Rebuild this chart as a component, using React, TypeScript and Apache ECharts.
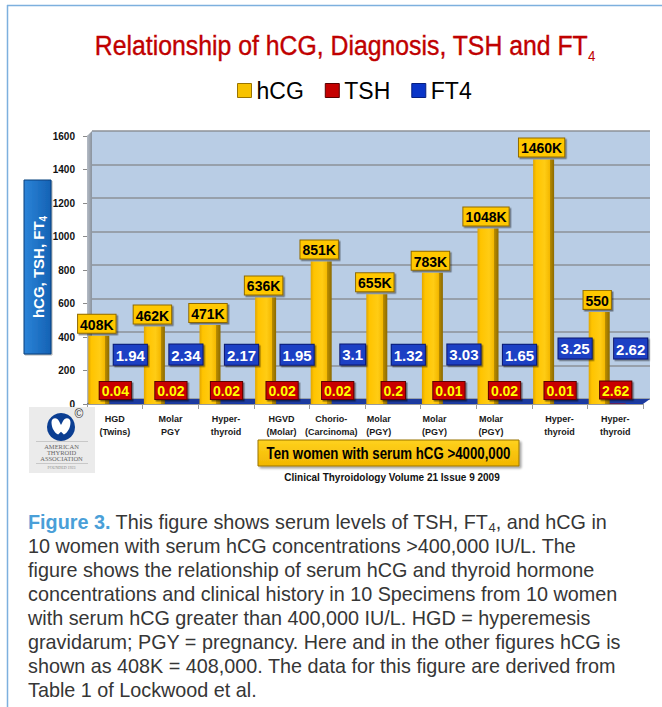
import React, { useEffect, useRef } from 'react';
import * as echarts from 'echarts';

const categories = [
  'HGD\n(Twins)',
  'Molar\nPGY',
  'Hyper-\nthyroid',
  'HGVD\n(Molar)',
  'Chorio-\n(Carcinoma)',
  'Molar\n(PGY)',
  'Molar\n(PGY)',
  'Molar\n(PGY)',
  'Hyper-\nthyroid',
  'Hyper-\nthyroid',
];
const hcgValues = [408, 462, 471, 636, 851, 655, 783, 1048, 1460, 550];
const hcgLabels = ['408K', '462K', '471K', '636K', '851K', '655K', '783K', '1048K', '1460K', '550'];
const tshValues = [0.04, 0.02, 0.02, 0.02, 0.02, 0.2, 0.01, 0.02, 0.01, 2.62];
const ft4Values = [1.94, 2.34, 2.17, 1.95, 3.1, 1.32, 3.03, 1.65, 3.25, 2.62];
const yMin = 0;
const yMax = 1600;
const yStep = 200;

const titleMain = 'Relationship of hCG, Diagnosis, TSH and FT';
const legendNames = ['hCG', 'TSH', 'FT4'];
const yAxisTitle = 'hCG, TSH, FT';
const bannerText = 'Ten women with serum hCG >4000,000';
const sourceText = 'Clinical Thyroidology Volume 21 Issue 9 2009';
const captionLines = [
  '{b|Figure 3.} This figure shows serum levels of TSH, FT{s|4}, and hCG in',
  '10 women with serum hCG concentrations >400,000 IU/L. The',
  'figure shows the relationship of serum hCG and thyroid hormone',
  'concentrations and clinical history in 10 Specimens from 10 women',
  'with serum hCG greater than 400,000 IU/L. HGD = hyperemesis',
  'gravidarum; PGY = pregnancy. Here and in the other figures hCG is',
  'shown as 408K = 408,000. The data for this figure are derived from',
  'Table 1 of Lockwood et al.',
];
const logoLines = ['AMERICAN', 'THYROID', 'ASSOCIATION'];

const FONT = '"Liberation Sans", Arial, Helvetica, sans-serif';

let shapeRegistered = false;
function registerShapes() {
  if (shapeRegistered) return;
  shapeRegistered = true;
  echarts.graphic.registerShape(
    'thyroid',
    echarts.graphic.extendPath(
      'M -10 -5 C -10 -10 -4 -11 -2 -6 L 0 -2 L 2 -6 C 4 -11 10 -10 10 -5 C 10 1 7 6 3 8 L 0 5 L -3 8 C -7 6 -10 1 -10 -5 Z',
      {}
    ) as any
  );
}

function buildOption() {
  const xPad: Record<number, number> = { 4: 12, 5: 28, 6: 28, 7: 26 };
  const baseLbl = { fontSize: 9, fontWeight: 'bold', color: '#1a1a1a', lineHeight: 12.5, fontFamily: FONT };
  const rich: any = { n: baseLbl };
  Object.values(xPad).forEach((p) => {
    rich['p' + p] = { ...baseLbl, padding: [0, p, 0, 0] };
  });

  const hcgGradient = new echarts.graphic.LinearGradient(0, 0, 1, 0, [
    { offset: 0, color: '#e2a600' },
    { offset: 0.15, color: '#ffc400' },
    { offset: 0.55, color: '#ffcc14' },
    { offset: 0.79, color: '#f4b800' },
    { offset: 0.8, color: '#b98c00' },
    { offset: 1, color: '#8c6a00' },
  ]);

  const graphic: any[] = [
    // frame
    { type: 'line', shape: { x1: 7, y1: 5.5, x2: 662, y2: 5.5 }, style: { stroke: '#7db0de', lineWidth: 1.5 }, z: 10 },
    { type: 'line', shape: { x1: 7.5, y1: 5, x2: 7.5, y2: 707 }, style: { stroke: '#7db0de', lineWidth: 1.5 }, z: 10 },
    // title
    {
      type: 'text',
      x: 345,
      y: 45,
      scaleX: 0.886,
      style: {
        text: `{t|${titleMain}}{s|4}`,
        align: 'center',
        verticalAlign: 'middle',
        rich: {
          t: { fontSize: 28, fontFamily: FONT, fill: '#c00000', lineHeight: 36, stroke: '#c00000', lineWidth: 0.4 },
          s: { fontSize: 15, fontFamily: FONT, fill: '#c00000', lineHeight: 17, verticalAlign: 'bottom' },
        },
      },
      z: 10,
    },
    // side wall
    {
      type: 'polygon',
      shape: { points: [[87, 136], [92, 131], [92, 399], [87, 404]] },
      style: {
        fill: new echarts.graphic.LinearGradient(0, 0, 1, 0, [
          { offset: 0, color: '#b5bcc6' },
          { offset: 1, color: '#8a939e' },
        ]),
      },
      z: 1,
    },
    // floor
    {
      type: 'polygon',
      shape: { points: [[87, 404], [92, 399], [650, 399], [643, 404]] },
      style: { fill: '#1c3a9e' },
      z: 1,
    },
    // y axis name box
    {
      type: 'rect',
      shape: { x: 24, y: 180, width: 27, height: 174 },
      style: {
        fill: new echarts.graphic.LinearGradient(0, 0, 1, 0, [
          { offset: 0, color: '#2b84d8' },
          { offset: 1, color: '#1562b4' },
        ]),
        stroke: '#0d3f7a',
        lineWidth: 1,
        shadowColor: 'rgba(0,0,0,0.3)',
        shadowOffsetX: 1,
        shadowOffsetY: 1,
        shadowBlur: 1,
      },
      z: 10,
    },
    {
      type: 'text',
      x: 38,
      y: 267,
      rotation: Math.PI / 2,
      style: {
        text: `{a|${yAxisTitle}}{b|4}`,
        align: 'center',
        verticalAlign: 'middle',
        rich: {
          a: { fontSize: 15, fontWeight: 'bold', fontFamily: FONT, fill: '#ffffff', lineHeight: 20 },
          b: { fontSize: 10, fontWeight: 'bold', fontFamily: FONT, fill: '#ffffff', lineHeight: 10, verticalAlign: 'bottom' },
        },
      },
      z: 11,
    },
    // logo
    { type: 'rect', shape: { x: 29, y: 407, width: 66, height: 66 }, style: { fill: '#ebebeb' }, z: 10 },
    { type: 'circle', shape: { cx: 61, cy: 427, r: 14 }, style: { fill: '#0b3e92' }, z: 11 },
    { type: 'thyroid', x: 61, y: 427, scaleX: 0.95, scaleY: 0.95, style: { fill: '#ffffff' }, z: 12 },
    { type: 'line', shape: { x1: 36, y1: 441.5, x2: 88, y2: 441.5 }, style: { stroke: '#b0b0b0', lineWidth: 0.6 }, z: 11 },
    { type: 'line', shape: { x1: 36, y1: 463.5, x2: 88, y2: 463.5 }, style: { stroke: '#b0b0b0', lineWidth: 0.6 }, z: 11 },
    ...logoLines.map((t, i) => ({
      type: 'text',
      x: 61.5,
      y: 446 + i * 6,
      style: { text: t, align: 'center', verticalAlign: 'middle', fontSize: 6.5, fontFamily: '"Liberation Serif", serif', fill: '#666666' },
      z: 11,
    })),
    {
      type: 'text',
      x: 61.5,
      y: 467,
      style: { text: 'FOUNDED 1923', align: 'center', verticalAlign: 'middle', fontSize: 4, fontFamily: '"Liberation Serif", serif', fill: '#888888' },
      z: 11,
    },
    {
      type: 'text',
      x: 79,
      y: 414,
      style: { text: '©', align: 'center', verticalAlign: 'middle', fontSize: 12, fontFamily: FONT, fill: '#333333' },
      z: 11,
    },
    // banner
    {
      type: 'rect',
      shape: { x: 258, y: 440, width: 261, height: 26 },
      style: {
        fill: new echarts.graphic.LinearGradient(0, 0, 0, 1, [
          { offset: 0, color: '#ffd21e' },
          { offset: 1, color: '#f2b600' },
        ]),
        stroke: '#9a7400',
        lineWidth: 1,
        shadowColor: 'rgba(0,0,0,0.35)',
        shadowOffsetX: 2,
        shadowOffsetY: 2,
        shadowBlur: 2,
      },
      z: 10,
    },
    {
      type: 'text',
      x: 388.5,
      y: 453,
      scaleX: 0.78,
      style: { text: bannerText, align: 'center', verticalAlign: 'middle', fontSize: 17, fontWeight: 'bold', fontFamily: FONT, fill: '#000000' },
      z: 11,
    },
    {
      type: 'text',
      x: 392,
      y: 477,
      style: { text: sourceText, align: 'center', verticalAlign: 'middle', fontSize: 10, fontWeight: 'bold', fontFamily: FONT, fill: '#111111' },
      z: 11,
    },
    // caption
    ...captionLines.map((line, i) => ({
      type: 'text',
      x: 28,
      y: 522 + i * 24,
      style: {
        text: line,
        align: 'left',
        verticalAlign: 'middle',
        fontSize: 19.8,
        fontFamily: FONT,
        fill: '#363636',
        lineHeight: 24,
        rich: {
          b: { fontSize: 19.8, fontWeight: 'bold', fontFamily: FONT, fill: '#4a9fd8', lineHeight: 24 },
          s: { fontSize: 13, fontFamily: FONT, fill: '#363636', lineHeight: 13, verticalAlign: 'bottom' },
        },
      },
      z: 11,
    })),
  ];

  return {
    animation: false,
    backgroundColor: '#ffffff',
    legend: {
      top: 74,
      left: 232,
      icon: 'rect',
      itemWidth: 14,
      itemHeight: 14,
      itemGap: 21,
      textStyle: { fontSize: 23, color: '#000000', fontFamily: FONT },
      data: [
        { name: legendNames[0], itemStyle: { color: '#f7c200', borderColor: '#9a7400', borderWidth: 1 } },
        { name: legendNames[1], itemStyle: { color: '#c40000', borderColor: '#5a0000', borderWidth: 1 } },
        { name: legendNames[2], itemStyle: { color: '#0a35c8', borderColor: '#061f80', borderWidth: 1 } },
      ],
    },
    grid: [
      { left: 87, right: 19, top: 136, bottom: 303 },
      { left: 92, right: 12, top: 131, bottom: 308, show: true, backgroundColor: '#b9cde5', borderWidth: 0 },
    ],
    xAxis: [
      {
        type: 'category',
        gridIndex: 0,
        data: categories,
        axisLine: { show: true, lineStyle: { color: '#9a9a9a', width: 1 } },
        axisTick: { show: true, length: 5, lineStyle: { color: '#9a9a9a' } },
        axisLabel: {
          interval: 0,
          margin: 9,
          formatter: (value: string, index: number) => {
            const p = xPad[index];
            const s = p ? 'p' + p : 'n';
            return value
              .split('\n')
              .map((l) => `{${s}|${l}}`)
              .join('\n');
          },
          rich,
        },
      },
      {
        type: 'category',
        gridIndex: 1,
        data: categories,
        show: false,
      },
    ],
    yAxis: [
      {
        type: 'value',
        gridIndex: 0,
        min: yMin,
        max: yMax,
        interval: yStep,
        splitLine: { show: false },
        axisLine: { show: true, lineStyle: { color: '#a0a0a0' } },
        axisTick: { show: true, length: 4, lineStyle: { color: '#8a8a8a' } },
        axisLabel: {
          fontSize: 10,
          fontWeight: 'bold',
          color: '#111111',
          margin: 12,
          fontFamily: FONT,
          formatter: (v: number) => String(v),
        },
      },
      {
        type: 'value',
        gridIndex: 1,
        min: yMin,
        max: yMax,
        interval: yStep,
        axisLine: { show: false },
        axisTick: { show: false },
        axisLabel: { show: false },
        splitLine: { show: true, lineStyle: { color: '#8d9197', width: 1.5 } },
      },
    ],
    graphic: { elements: graphic },
    series: [
      {
        name: legendNames[0],
        type: 'bar',
        xAxisIndex: 0,
        yAxisIndex: 0,
        barWidth: 21,
        barGap: '0%',
        z: 3,
        data: hcgValues,
        itemStyle: { color: hcgGradient },
        label: {
          show: true,
          position: 'top',
          distance: 3,
          offset: [-2, 0],
          formatter: (p: any) => hcgLabels[p.dataIndex],
          backgroundColor: '#ffc800',
          borderColor: '#8f6a00',
          borderWidth: 1,
          padding: [3, 2, 1, 2],
          fontSize: 14,
          fontWeight: 'bold',
          color: '#000000',
          fontFamily: FONT,
          shadowColor: 'rgba(0,0,0,0.45)',
          shadowOffsetX: 1.5,
          shadowOffsetY: 1.5,
          shadowBlur: 1,
        },
      },
      {
        name: legendNames[1],
        type: 'bar',
        xAxisIndex: 0,
        yAxisIndex: 0,
        barWidth: 16,
        barGap: '0%',
        z: 4,
        data: tshValues,
        itemStyle: { color: '#c40000' },
        label: {
          show: true,
          position: 'top',
          distance: 5,
          offset: [-2, 0],
          formatter: (p: any) => String(tshValues[p.dataIndex]),
          backgroundColor: '#c80000',
          borderColor: '#5e0000',
          borderWidth: 1,
          padding: [2, 2, 1, 2],
          fontSize: 14,
          fontWeight: 'bold',
          color: '#ffff00',
          fontFamily: FONT,
          shadowColor: 'rgba(0,0,0,0.45)',
          shadowOffsetX: 1.5,
          shadowOffsetY: 1.5,
          shadowBlur: 1,
        },
      },
      {
        name: legendNames[2],
        type: 'bar',
        xAxisIndex: 0,
        yAxisIndex: 0,
        barWidth: 16,
        barGap: '0%',
        z: 4,
        data: ft4Values.map((v, i) => (i >= 8 ? { value: v, label: { distance: 45 } } : v)),
        itemStyle: { color: '#0a35c8' },
        label: {
          show: true,
          position: 'top',
          distance: 39,
          offset: [-3, 0],
          formatter: (p: any) => String(ft4Values[p.dataIndex]),
          backgroundColor: '#1f3fc4',
          borderColor: '#0a1a70',
          borderWidth: 1,
          padding: [3, 2, 2, 2],
          fontSize: 15,
          fontWeight: 'bold',
          color: '#ffffff',
          fontFamily: FONT,
          shadowColor: 'rgba(0,0,0,0.45)',
          shadowOffsetX: 1.5,
          shadowOffsetY: 1.5,
          shadowBlur: 1,
        },
      },
    ],
  };
}

export default function App() {
  const ref = useRef<HTMLDivElement>(null);
  useEffect(() => {
    if (!ref.current) return;
    registerShapes();
    const chart = echarts.init(ref.current, undefined, { renderer: 'svg' });
    chart.setOption(buildOption() as any);
    return () => chart.dispose();
  }, []);
  return (
    <div
      ref={ref}
      style={{ position: 'absolute', left: 0, top: 0, width: 662, height: 707, background: '#ffffff' }}
    />
  );
}
